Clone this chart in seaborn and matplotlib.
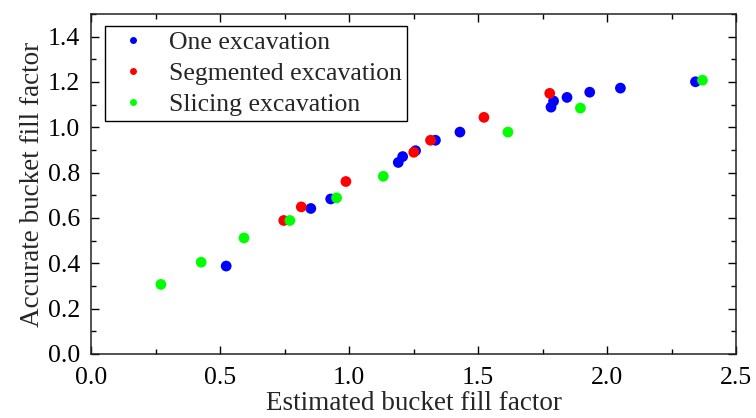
import numpy as np
import pandas as pd
import matplotlib
matplotlib.use("Agg")
import matplotlib.pyplot as plt
import seaborn as sns
from matplotlib.ticker import MultipleLocator, FormatStrFormatter

# Estimated vs accurate bucket fill factor for each excavation mode
one_est = [0.524, 0.852, 0.929, 1.191, 1.208, 1.258, 1.335, 1.430, 1.783, 1.793,
           1.845, 1.933, 2.052, 2.343]
one_acc = [0.388, 0.642, 0.684, 0.845, 0.871, 0.897, 0.943, 0.979, 1.089, 1.116,
           1.132, 1.155, 1.173, 1.201]

seg_est = [0.747, 0.815, 0.988, 1.251, 1.316, 1.523, 1.778]
seg_acc = [0.589, 0.649, 0.761, 0.890, 0.943, 1.044, 1.150]

sli_est = [0.271, 0.427, 0.593, 0.771, 0.952, 1.133, 1.616, 1.897, 2.370]
sli_acc = [0.307, 0.405, 0.512, 0.589, 0.689, 0.784, 0.979, 1.085, 1.208]

labels = ["One excavation", "Segmented excavation", "Slicing excavation"]
colors = ["#0000ff", "#ff0000", "#00ff00"]

df = pd.concat([
    pd.DataFrame({"est": one_est, "acc": one_acc, "mode": labels[0]}),
    pd.DataFrame({"est": seg_est, "acc": seg_acc, "mode": labels[1]}),
    pd.DataFrame({"est": sli_est, "acc": sli_acc, "mode": labels[2]}),
], ignore_index=True)

sns.set_theme(style="ticks")
plt.rcParams["font.family"] = ["Liberation Serif", "DejaVu Serif"]
plt.rcParams["mathtext.fontset"] = "stix"

fig = plt.figure(figsize=(7.56, 4.18), dpi=100)
ax = fig.add_axes([91 / 756, 1 - 354 / 418, (736 - 91) / 756, (354 - 14) / 418])

sns.scatterplot(data=df, x="est", y="acc", hue="mode", hue_order=labels,
                palette=colors, s=60, edgecolor="none", linewidth=0, ax=ax,
                legend=False, zorder=3)

ax.set_xlim(0, 2.5)
ax.set_ylim(0, 1.5)
ax.xaxis.set_major_locator(MultipleLocator(0.5))
ax.xaxis.set_minor_locator(MultipleLocator(0.25))
ax.yaxis.set_major_locator(MultipleLocator(0.2))
ax.yaxis.set_minor_locator(MultipleLocator(0.1))
ax.xaxis.set_major_formatter(FormatStrFormatter("%.1f"))
ax.yaxis.set_major_formatter(FormatStrFormatter("%.1f"))

ax.tick_params(which="both", direction="in", top=True, right=True,
               labelsize=18.5, width=1.0, colors="black")
ax.tick_params(axis="x", which="major", pad=9)
ax.tick_params(axis="y", which="major", pad=8)
ax.tick_params(which="major", length=6)
ax.tick_params(which="minor", length=3.5)
for sp in ax.spines.values():
    sp.set_linewidth(1.1)
    sp.set_color("#222222")

ax.set_xlabel("Estimated bucket fill factor", fontsize=19.5, labelpad=2)
ax.set_ylabel("Accurate bucket fill factor", fontsize=19.5, labelpad=2)

# legend with small dot handles
handles = [plt.Line2D([], [], marker="o", linestyle="none", color=c,
                      markersize=5, markeredgewidth=0) for c in colors]
leg = ax.legend(handles, labels, loc="upper left",
                bbox_to_anchor=(14 / 645, 1 - 12 / 340),
                fontsize=18.5, frameon=True, fancybox=False, framealpha=1,
                edgecolor="black", borderpad=0.2, handletextpad=0.55,
                handlelength=1.75, labelspacing=0.3, borderaxespad=0)
leg.get_frame().set_linewidth(1.0)

fig.savefig("out.png", dpi=100)
